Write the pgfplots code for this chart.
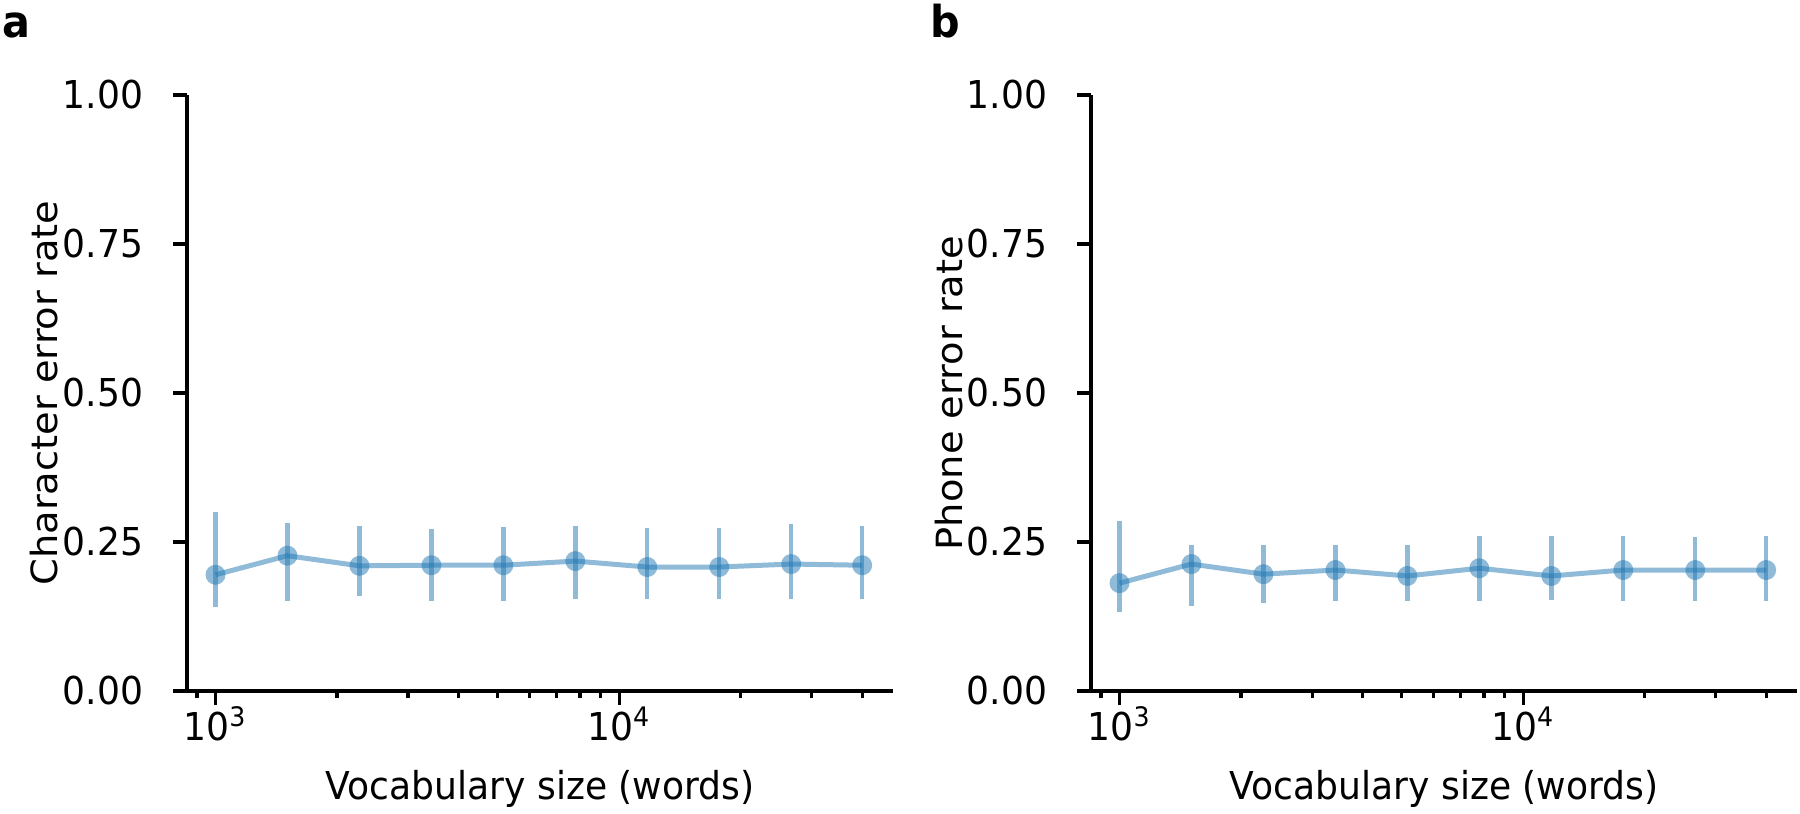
\documentclass[border=0pt]{standalone}
\usepackage{fontspec}
\setmainfont{DejaVu Sans}
\usepackage{graphicx}
\usepackage{pgfplots}
\usepackage{pgfplotstable}
\pgfplotsset{compat=1.18}
\definecolor{tabblue}{HTML}{1F77B4}
\newcommand{\hs}[1]{\scalebox{0.94}[1]{#1}}

\pgfplotstableread{
x y ep em
1000 0.195 0.105 0.054
1507.6 0.227 0.055 0.076
2272.8 0.210 0.067 0.051
3426.6 0.211 0.061 0.060
5165.9 0.211 0.064 0.060
7788.2 0.218 0.059 0.064
11741.5 0.208 0.065 0.054
17701.6 0.208 0.065 0.054
26686.8 0.213 0.067 0.059
40000 0.211 0.066 0.057
}\dataA

\pgfplotstableread{
x y ep em
1000 0.181 0.104 0.048
1507.6 0.213 0.032 0.070
2272.8 0.196 0.049 0.048
3426.6 0.203 0.042 0.052
5165.9 0.193 0.052 0.042
7788.2 0.206 0.054 0.055
11741.5 0.193 0.067 0.040
17701.6 0.203 0.057 0.052
26686.8 0.203 0.055 0.052
40000 0.203 0.057 0.052
}\dataB

\begin{document}
\fontsize{9.6}{11.5}\selectfont
\begin{tikzpicture}
\path[use as bounding box] (0pt,0pt) rectangle (450pt,203.5pt);

\begin{semilogxaxis}[
    at={(46.75pt,30.75pt)}, anchor=south west,
    width=176.5pt, height=149pt, scale only axis,
    xmin=850, xmax=47700, ymin=0, ymax=1,
    axis lines*=left,
    axis line style={line width=0.8pt, black},
    tick align=outside,
    major tick length=3.4pt, minor tick length=1.8pt,
    tick style={line width=0.8pt, black},
    xtick={1000,10000},
    xticklabels={\hs{10\textsuperscript{3}},\hs{10\textsuperscript{4}}},
    minor xtick={900,2000,3000,4000,5000,6000,7000,8000,9000,20000,30000,40000},
    ytick={0,0.25,0.5,0.75,1},
    yticklabels={\hs{0.00},\hs{0.25},\hs{0.50},\hs{0.75},\hs{1.00}},
    yticklabel style={anchor=east, inner sep=0pt, xshift=-7.4pt},
    xticklabel style={anchor=base, inner sep=0pt, yshift=-9.1pt},
    clip=false]
\addplot[color=tabblue, line width=1.25pt, draw opacity=0.5,
    mark=*, mark size=2.5pt,
    mark options={fill=tabblue, fill opacity=0.5, draw opacity=0},
    error bars/.cd, y dir=both, y explicit,
    error bar style={line width=1.1pt, color=tabblue, opacity=0.5},
    error mark=none]
  table[x=x, y=y, y error plus=ep, y error minus=em] {\dataA};
\end{semilogxaxis}

\begin{semilogxaxis}[
    at={(272.75pt,30.75pt)}, anchor=south west,
    width=176.5pt, height=149pt, scale only axis,
    xmin=850, xmax=47700, ymin=0, ymax=1,
    axis lines*=left,
    axis line style={line width=0.8pt, black},
    tick align=outside,
    major tick length=3.4pt, minor tick length=1.8pt,
    tick style={line width=0.8pt, black},
    xtick={1000,10000},
    xticklabels={\hs{10\textsuperscript{3}},\hs{10\textsuperscript{4}}},
    minor xtick={900,2000,3000,4000,5000,6000,7000,8000,9000,20000,30000,40000},
    ytick={0,0.25,0.5,0.75,1},
    yticklabels={\hs{0.00},\hs{0.25},\hs{0.50},\hs{0.75},\hs{1.00}},
    yticklabel style={anchor=east, inner sep=0pt, xshift=-7.4pt},
    xticklabel style={anchor=base, inner sep=0pt, yshift=-9.1pt},
    clip=false]
\addplot[color=tabblue, line width=1.25pt, draw opacity=0.5,
    mark=*, mark size=2.5pt,
    mark options={fill=tabblue, fill opacity=0.5, draw opacity=0},
    error bars/.cd, y dir=both, y explicit,
    error bar style={line width=1.1pt, color=tabblue, opacity=0.5},
    error mark=none]
  table[x=x, y=y, y error plus=ep, y error minus=em] {\dataB};
\end{semilogxaxis}

\node[rotate=90, anchor=base, inner sep=0pt] at (14.5pt,105.25pt) {\scalebox{1}[0.94]{Character error rate}};
\node[rotate=90, anchor=base, inner sep=0pt] at (240.5pt,105.25pt) {\scalebox{1}[0.94]{Phone error rate}};
\node[anchor=base, inner sep=0pt] at (135pt,3.5pt) {\hs{Vocabulary size (words)}};
\node[anchor=base, inner sep=0pt] at (361pt,3.5pt) {\hs{Vocabulary size (words)}};
\node[anchor=base west, inner sep=0pt, font=\fontsize{11}{13}\selectfont\bfseries] at (0.5pt,194pt) {\hs{a}};
\node[anchor=base west, inner sep=0pt, font=\fontsize{11}{13}\selectfont\bfseries] at (232.5pt,194pt) {\hs{b}};
\end{tikzpicture}
\end{document}
